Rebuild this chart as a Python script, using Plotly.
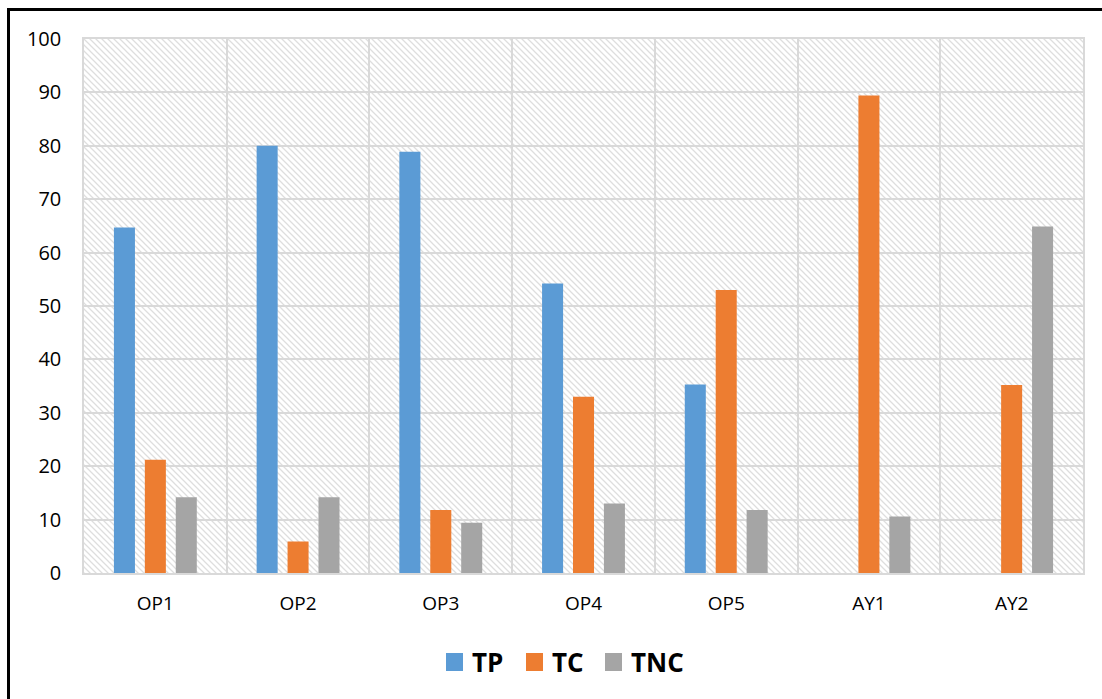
import base64
import plotly.graph_objects as go

# Categories and series values (%)
categories = ["OP1", "OP2", "OP3", "OP4", "OP5", "AY1", "AY2"]
tp_values = [64.7, 80.0, 78.9, 54.2, 35.3, 0, 0]
tc_values = [21.2, 5.9, 11.8, 33.0, 53.0, 89.4, 35.2]
tnc_values = [14.2, 14.2, 9.4, 13.0, 11.8, 10.6, 64.9]
y_ticks = [0, 10, 20, 30, 40, 50, 60, 70, 80, 90, 100]

series = [("TP", tp_values, "#5B9BD5"),
          ("TC", tc_values, "#ED7D31"),
          ("TNC", tnc_values, "#A5A5A5")]

W, H = 1102, 699
M = dict(l=84, r=19, t=39, b=126)
pw, ph = W - M["l"] - M["r"], H - M["t"] - M["b"]
FONT = "'Open Sans', sans-serif"


def px_x(px):
    return (px - M["l"]) / pw


def px_y(py):
    return (H - M["b"] - py) / ph


# Diagonal hatch for the plot background
hatch_svg = f"""<svg xmlns='http://www.w3.org/2000/svg' width='{pw}' height='{ph}'>
<defs><pattern id='h' width='6' height='6' patternUnits='userSpaceOnUse'>
<path d='M-1,-1 L7,7 M-7,-1 L1,7 M5,-1 L13,7' stroke='#dedede' stroke-width='1.3'/>
</pattern></defs>
<rect width='{pw}' height='{ph}' fill='white'/>
<rect width='{pw}' height='{ph}' fill='url(#h)'/>
</svg>"""
hatch_uri = "data:image/svg+xml;base64," + base64.b64encode(hatch_svg.encode()).decode()

fig = go.Figure()
for name, vals, color in series:
    fig.add_trace(go.Bar(x=categories, y=vals, name=name, showlegend=False,
                         marker=dict(color=color, line=dict(width=0))))

# Legend below the plot: large swatches with bold labels
shapes = []
annotations = []
legend_x = [446, 526, 605]
legend_cy = 662
for (name, _, color), lx in zip(series, legend_x):
    shapes.append(dict(type="rect", xref="paper", yref="paper",
                       x0=px_x(lx), x1=px_x(lx + 17),
                       y0=px_y(legend_cy + 9), y1=px_y(legend_cy - 9),
                       fillcolor=color, line=dict(width=0)))
    annotations.append(dict(text=f"<b>{name}</b>", xref="paper", yref="paper",
                            x=px_x(lx + 24), y=px_y(legend_cy), xanchor="left",
                            yanchor="middle", showarrow=False,
                            font=dict(size=26, family=FONT, color="black")))

# Outer frame
shapes.append(dict(type="rect", xref="paper", yref="paper",
                   x0=px_x(8.5), x1=px_x(W + 10),
                   y0=px_y(H + 10), y1=px_y(9.5),
                   line=dict(color="black", width=3), layer="above"))

fig.update_layout(
    width=W, height=H,
    margin=M,
    paper_bgcolor="white",
    plot_bgcolor="rgba(0,0,0,0)",
    barmode="group",
    bargap=0.35,
    bargroupgap=0.32,
    showlegend=False,
    font=dict(family=FONT, color="#000000"),
    images=[dict(source=hatch_uri, xref="paper", yref="paper", x=0, y=1,
                 sizex=1, sizey=1, sizing="stretch", layer="below")],
    xaxis=dict(
        type="category", tickson="boundaries", showgrid=True,
        gridcolor="#D9D9D9", gridwidth=1.5, ticks="", showline=True,
        linecolor="#D9D9D9", linewidth=1.5, mirror=True,
        tickfont=dict(size=19), ticklabelstandoff=12,
    ),
    yaxis=dict(
        range=[0, 100], tickvals=y_ticks, showgrid=True,
        gridcolor="#D9D9D9", gridwidth=1.5, zeroline=False, showline=True,
        linecolor="#D9D9D9", linewidth=1.5, mirror=True,
        tickfont=dict(size=20), ticks="", ticklabelstandoff=17,
    ),
    shapes=shapes,
    annotations=annotations,
)

fig.write_html("out.html")
